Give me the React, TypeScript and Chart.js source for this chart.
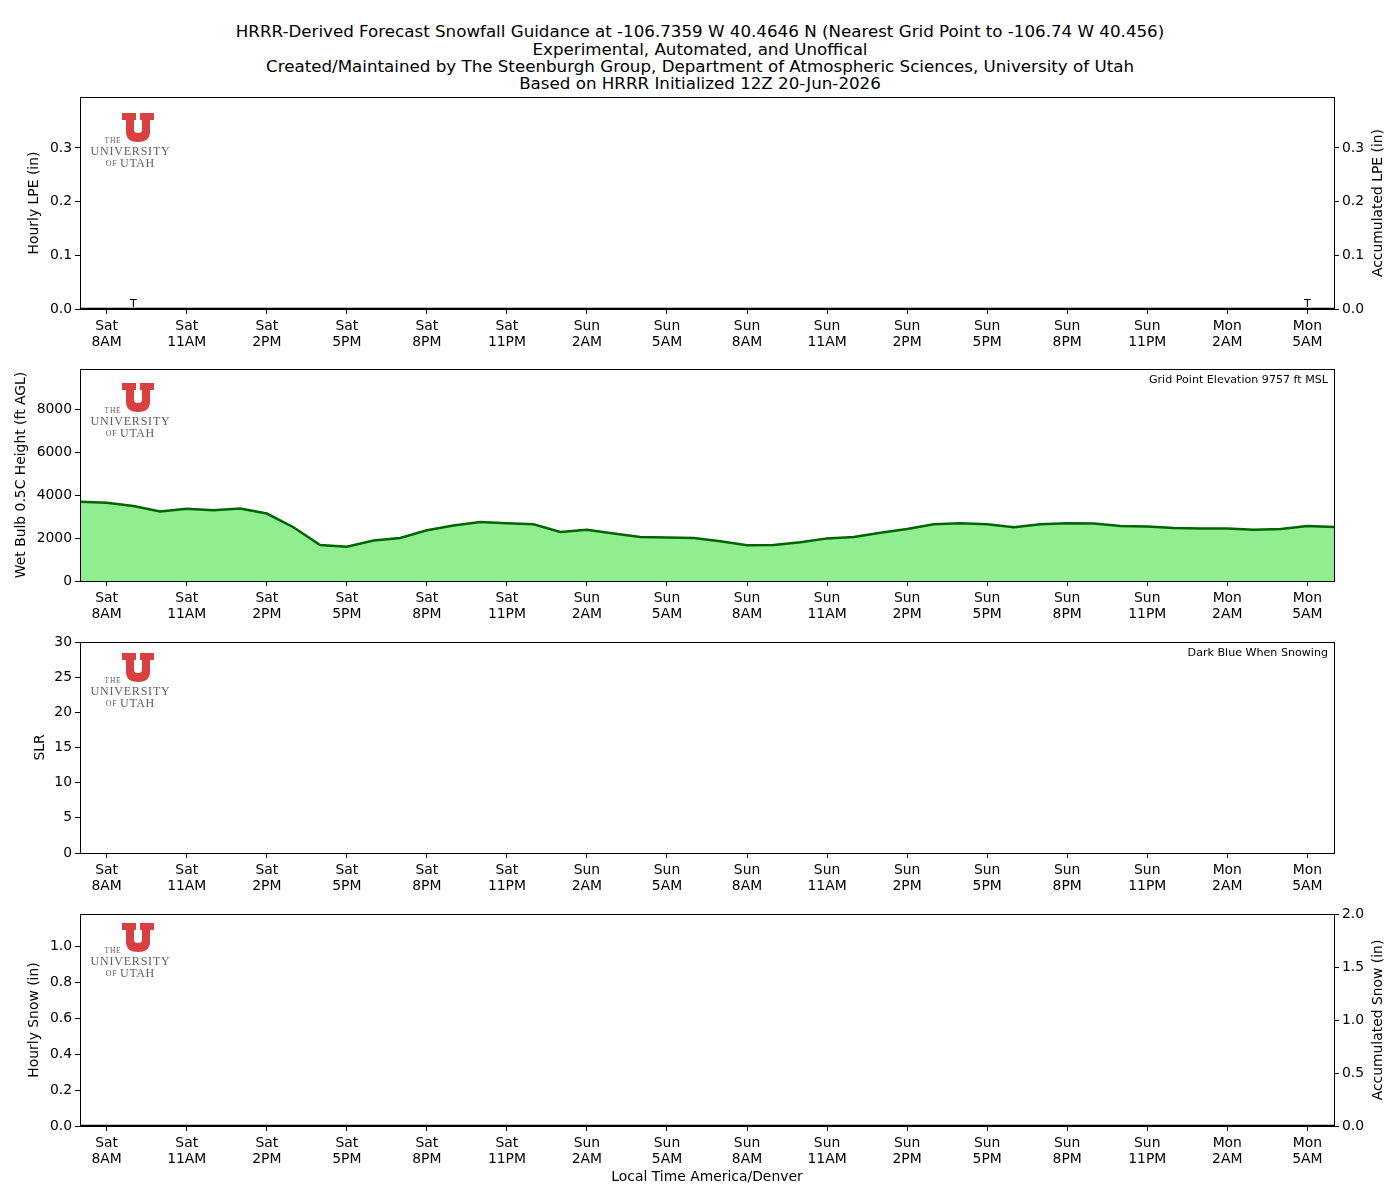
import React, { useEffect, useRef } from "react";
import { Chart, registerables } from "chart.js";

Chart.register(...registerables);

const FONT = '"DejaVu Sans", sans-serif';
const SERIF = '"Liberation Serif", "DejaVu Serif", serif';

// ---------- text ----------
const titleLines = [
  "HRRR-Derived Forecast Snowfall Guidance at -106.7359 W 40.4646 N (Nearest Grid Point to -106.74 W 40.456)",
  "Experimental, Automated, and Unoffical",
  "Created/Maintained by The Steenburgh Group, Department of Atmospheric Sciences, University of Utah",
  "Based on HRRR Initialized 12Z 20-Jun-2026",
];
const xAxisTitle = "Local Time America/Denver";
const elevationNote = "Grid Point Elevation 9757 ft MSL";
const snowingNote = "Dark Blue When Snowing";

// ---------- x axis (hour index 0 = Sat 7AM ... 47 = Mon 6AM) ----------
const hourCount = 48;
const xTickHours = [1, 4, 7, 10, 13, 16, 19, 22, 25, 28, 31, 34, 37, 40, 43, 46];
const xTickDays = ["Sat", "Sat", "Sat", "Sat", "Sat", "Sat", "Sun", "Sun", "Sun", "Sun", "Sun", "Sun", "Sun", "Sun", "Mon", "Mon"];
const xTickTimes = ["8AM", "11AM", "2PM", "5PM", "8PM", "11PM", "2AM", "5AM", "8AM", "11AM", "2PM", "5PM", "8PM", "11PM", "2AM", "5AM"];

// ---------- series ----------
const hourlyLPE = [0, 0, 0, 0, 0, 0, 0, 0, 0, 0, 0, 0, 0, 0, 0, 0, 0, 0, 0, 0, 0, 0, 0, 0, 0, 0, 0, 0, 0, 0, 0, 0, 0, 0, 0, 0, 0, 0, 0, 0, 0, 0, 0, 0, 0, 0, 0, 0];
const accumulatedLPE = [0, 0, 0, 0, 0, 0, 0, 0, 0, 0, 0, 0, 0, 0, 0, 0, 0, 0, 0, 0, 0, 0, 0, 0, 0, 0, 0, 0, 0, 0, 0, 0, 0, 0, 0, 0, 0, 0, 0, 0, 0, 0, 0, 0, 0, 0, 0, 0];
const lpeTraceHours = [2, 46];
const lpeTraceLabel = "T";

const wetBulbHeight = [
  3700, 3650, 3500, 3250, 3370, 3300, 3380, 3150, 2510, 1680, 1600, 1890,
  2010, 2370, 2590, 2750, 2700, 2650, 2290, 2390, 2220, 2060, 2030, 2010,
  1860, 1670, 1680, 1810, 1990, 2050, 2250, 2430, 2650, 2700, 2650, 2510,
  2650, 2700, 2690, 2570, 2540, 2480, 2450, 2450, 2390, 2430, 2570, 2520,
];

const slr: (number | null)[] = [
  null, null, null, null, null, null, null, null, null, null, null, null,
  null, null, null, null, null, null, null, null, null, null, null, null,
  null, null, null, null, null, null, null, null, null, null, null, null,
  null, null, null, null, null, null, null, null, null, null, null, null,
];

const hourlySnow = [0, 0, 0, 0, 0, 0, 0, 0, 0, 0, 0, 0, 0, 0, 0, 0, 0, 0, 0, 0, 0, 0, 0, 0, 0, 0, 0, 0, 0, 0, 0, 0, 0, 0, 0, 0, 0, 0, 0, 0, 0, 0, 0, 0, 0, 0, 0, 0];
const accumulatedSnow = [0, 0, 0, 0, 0, 0, 0, 0, 0, 0, 0, 0, 0, 0, 0, 0, 0, 0, 0, 0, 0, 0, 0, 0, 0, 0, 0, 0, 0, 0, 0, 0, 0, 0, 0, 0, 0, 0, 0, 0, 0, 0, 0, 0, 0, 0, 0, 0];

// ---------- y ticks ----------
const lpeTicks = [0, 0.1, 0.2, 0.3];
const lpeMax = 0.395;
const wetBulbTicks = [0, 2000, 4000, 6000, 8000];
const wetBulbMax = 9900;
const slrTicks = [0, 5, 10, 15, 20, 25, 30];
const slrMax = 30;
const snowTicks = [0, 0.2, 0.4, 0.6, 0.8, 1.0];
const snowMax = 1.178;
const accSnowTicks = [0, 0.5, 1.0, 1.5, 2.0];
const accSnowMax = 2.0;

// ---------- layout ----------
const FIG_W = 1400;
const FIG_H = 1200;
const PLOT_LEFT = 80;
const PLOT_RIGHT = 1334;
const PAD_TOP = 20;
const TICK_SIZE = 13.9;

const toXY = (arr: (number | null)[]) => arr.map((v, i) => ({ x: i, y: v }));

function drawLogo(ctx: CanvasRenderingContext2D, ux: number, uy: number) {
  ctx.save();
  ctx.fillStyle = "#d94141";
  ctx.beginPath();
  ctx.moveTo(ux, uy);
  ctx.lineTo(ux + 14, uy);
  ctx.lineTo(ux + 14, uy + 7);
  ctx.lineTo(ux + 12, uy + 7);
  ctx.lineTo(ux + 12, uy + 17);
  ctx.quadraticCurveTo(ux + 12, uy + 20, ux + 16, uy + 20);
  ctx.quadraticCurveTo(ux + 20, uy + 20, ux + 20, uy + 17);
  ctx.lineTo(ux + 20, uy + 7);
  ctx.lineTo(ux + 18, uy + 7);
  ctx.lineTo(ux + 18, uy);
  ctx.lineTo(ux + 32, uy);
  ctx.lineTo(ux + 32, uy + 7);
  ctx.lineTo(ux + 28, uy + 7);
  ctx.lineTo(ux + 28, uy + 19);
  ctx.bezierCurveTo(ux + 28, uy + 26, ux + 23, uy + 29, ux + 16, uy + 29);
  ctx.bezierCurveTo(ux + 9, uy + 29, ux + 4, uy + 26, ux + 4, uy + 19);
  ctx.lineTo(ux + 4, uy + 7);
  ctx.lineTo(ux, uy + 7);
  ctx.closePath();
  ctx.fill();

  ctx.fillStyle = "#5e5e5e";
  ctx.textAlign = "center";
  ctx.textBaseline = "middle";
  const c = ctx as any;
  c.letterSpacing = "0.8px";
  ctx.font = `7.5px ${SERIF}`;
  ctx.fillText("THE", ux - 9, uy + 28);
  c.letterSpacing = "0.8px";
  ctx.font = `12px ${SERIF}`;
  ctx.fillText("UNIVERSITY", ux + 8.5, uy + 39);
  c.letterSpacing = "0.6px";
  ctx.font = `8px ${SERIF}`;
  ctx.fillText("OF", ux - 10.5, uy + 51);
  ctx.font = `12px ${SERIF}`;
  ctx.fillText("UTAH", ux + 15.5, uy + 51);
  c.letterSpacing = "0px";
  ctx.restore();
}

type DecorOpts = {
  logoOffset: number;
  rightTitle?: string;
  note?: string;
  traces?: number[];
};

function makeDecor(o: DecorOpts) {
  return {
    id: "panelDecor",
    beforeDatasetsDraw(chart: any) {
      const { left, top } = chart.chartArea;
      drawLogo(chart.ctx, left + 42, top + o.logoOffset);
    },
    afterDraw(chart: any) {
      const ctx: CanvasRenderingContext2D = chart.ctx;
      const { left, right, top, bottom } = chart.chartArea;
      ctx.save();
      ctx.strokeStyle = "#000";
      ctx.lineWidth = 1;
      ctx.strokeRect(Math.round(left) + 0.5, Math.round(top) + 0.5, Math.round(right - left), Math.round(bottom - top));
      if (o.rightTitle) {
        ctx.save();
        ctx.translate(FIG_W - 22, (top + bottom) / 2);
        ctx.rotate(-Math.PI / 2);
        ctx.font = `${TICK_SIZE}px ${FONT}`;
        ctx.fillStyle = "#000";
        ctx.textAlign = "center";
        ctx.textBaseline = "middle";
        ctx.fillText(o.rightTitle, 0, 0);
        ctx.restore();
      }
      if (o.note) {
        ctx.font = `11.1px ${FONT}`;
        ctx.fillStyle = "#000";
        ctx.textAlign = "right";
        ctx.textBaseline = "middle";
        ctx.fillText(o.note, right - 6, top + 11);
      }
      if (o.traces) {
        const xs = chart.scales.x;
        const ys = chart.scales.y;
        ctx.font = `11.1px ${FONT}`;
        ctx.fillStyle = "#000";
        ctx.textAlign = "center";
        ctx.textBaseline = "alphabetic";
        o.traces.forEach((h) => {
          ctx.fillText(lpeTraceLabel, xs.getPixelForValue(h), ys.getPixelForValue(0) - 2);
        });
      }
      ctx.restore();
    },
  };
}

function xAxis(withTitle: boolean) {
  return {
    type: "linear",
    position: "bottom",
    min: 0,
    max: hourCount - 1,
    offset: false,
    afterBuildTicks: (s: any) => {
      s.ticks = xTickHours.map((v) => ({ value: v }));
    },
    afterFit: (s: any) => {
      s.height = withTitle ? 72 : 52;
      s.paddingLeft = 0;
      s.paddingRight = 0;
    },
    ticks: {
      autoSkip: false,
      maxRotation: 0,
      minRotation: 0,
      color: "#000",
      padding: 4,
      font: { family: FONT, size: TICK_SIZE, lineHeight: 1.15 },
      callback: (v: number) => {
        const i = xTickHours.indexOf(v);
        return [xTickDays[i], xTickTimes[i]];
      },
    },
    grid: { display: true, offset: false, drawOnChartArea: false, drawTicks: true, tickLength: 5, color: "#000", lineWidth: 1 },
    border: { display: false },
    title: withTitle
      ? { display: true, text: xAxisTitle, color: "#000", font: { family: FONT, size: TICK_SIZE, lineHeight: 1.2 }, padding: { top: 0, bottom: 12 } }
      : { display: false },
  };
}

function yAxis(position: "left" | "right", max: number, ticks: number[], fmt: (v: number) => string, title?: string, titlePad?: number) {
  return {
    type: "linear",
    position,
    min: 0,
    max,
    afterBuildTicks: (s: any) => {
      s.ticks = ticks.map((v) => ({ value: v }));
    },
    afterFit: (s: any) => {
      s.width = position === "left" ? PLOT_LEFT : FIG_W - PLOT_RIGHT;
      s.paddingTop = 0;
      s.paddingBottom = 0;
    },
    ticks: { color: "#000", padding: 3, font: { family: FONT, size: TICK_SIZE }, callback: (v: number) => fmt(v) },
    grid: { display: true, drawOnChartArea: false, drawTicks: true, tickLength: 5, color: "#000", lineWidth: 1 },
    border: { display: false },
    title: title
      ? { display: true, text: title, color: "#000", font: { family: FONT, size: TICK_SIZE, lineHeight: 1.2 }, padding: { top: titlePad ?? 0, bottom: 0 } }
      : { display: false },
  };
}

const f1 = (v: number) => v.toFixed(1);
const f0 = (v: number) => String(Math.round(v));

type PanelSpec = {
  top: number;
  bottom: number;
  withXTitle: boolean;
  hasRight: boolean;
  build: () => any;
};

function baseOptions(hasRight: boolean, scales: any) {
  return {
    responsive: false,
    maintainAspectRatio: false,
    animation: false,
    events: [],
    layout: { padding: { top: PAD_TOP, left: 0, bottom: 0, right: hasRight ? 0 : FIG_W - PLOT_RIGHT } },
    plugins: { legend: { display: false }, tooltip: { enabled: false }, title: { display: false } },
    scales,
  };
}

const panels: PanelSpec[] = [
  {
    top: 97,
    bottom: 309,
    withXTitle: false,
    hasRight: true,
    build: () => ({
      type: "line",
      data: {
        datasets: [
          { type: "bar", label: "Hourly LPE", data: toXY(hourlyLPE), yAxisID: "y", backgroundColor: "#3a7fc1", borderWidth: 0, barPercentage: 1, categoryPercentage: 0.8 },
          { type: "line", label: "Accumulated LPE", data: toXY(accumulatedLPE), yAxisID: "y2", borderColor: "#000", borderWidth: 2.5, pointRadius: 0, fill: false, tension: 0 },
        ],
      },
      options: baseOptions(true, {
        x: xAxis(false),
        y: yAxis("left", lpeMax, lpeTicks, f1, "Hourly LPE (in)", 26),
        y2: yAxis("right", lpeMax, lpeTicks, f1),
      }),
      plugins: [makeDecor({ logoOffset: 16, rightTitle: "Accumulated LPE (in)", traces: lpeTraceHours })],
    }),
  },
  {
    top: 369,
    bottom: 581,
    withXTitle: false,
    hasRight: false,
    build: () => ({
      type: "line",
      data: {
        datasets: [
          { label: "Wet Bulb 0.5C Height", data: toXY(wetBulbHeight), borderColor: "#006400", backgroundColor: "#90ee90", borderWidth: 2.5, pointRadius: 0, fill: "origin", tension: 0 },
        ],
      },
      options: baseOptions(false, {
        x: xAxis(false),
        y: yAxis("left", wetBulbMax, wetBulbTicks, f0, "Wet Bulb 0.5C Height (ft AGL)", 13.3),
      }),
      plugins: [makeDecor({ logoOffset: 14, note: elevationNote })],
    }),
  },
  {
    top: 642,
    bottom: 853,
    withXTitle: false,
    hasRight: false,
    build: () => ({
      type: "line",
      data: {
        datasets: [
          { label: "SLR", data: toXY(slr), borderColor: "#00008b", borderWidth: 2, pointRadius: 0, fill: false, tension: 0 },
        ],
      },
      options: baseOptions(false, {
        x: xAxis(false),
        y: yAxis("left", slrMax, slrTicks, f0, "SLR", 31.7),
      }),
      plugins: [makeDecor({ logoOffset: 11, note: snowingNote })],
    }),
  },
  {
    top: 914,
    bottom: 1126,
    withXTitle: true,
    hasRight: true,
    build: () => ({
      type: "line",
      data: {
        datasets: [
          { type: "bar", label: "Hourly Snow", data: toXY(hourlySnow), yAxisID: "y", backgroundColor: "#00008b", borderWidth: 0, barPercentage: 1, categoryPercentage: 0.8 },
          { type: "line", label: "Accumulated Snow", data: toXY(accumulatedSnow), yAxisID: "y2", borderColor: "#000", borderWidth: 2.5, pointRadius: 0, fill: false, tension: 0 },
        ],
      },
      options: baseOptions(true, {
        x: xAxis(true),
        y: yAxis("left", snowMax, snowTicks, f1, "Hourly Snow (in)", 26),
        y2: yAxis("right", accSnowMax, accSnowTicks, f1),
      }),
      plugins: [makeDecor({ logoOffset: 9, rightTitle: "Accumulated Snow (in)" })],
    }),
  },
];

function Panel({ spec }: { spec: PanelSpec }) {
  const ref = useRef<HTMLCanvasElement | null>(null);
  const height = PAD_TOP + (spec.bottom - spec.top) + (spec.withXTitle ? 72 : 52);
  const canvasTop = spec.top - PAD_TOP;
  useEffect(() => {
    if (!ref.current) return;
    const chart = new Chart(ref.current, spec.build());
    return () => chart.destroy();
  }, [spec]);
  return (
    <canvas
      ref={ref}
      width={FIG_W}
      height={height}
      style={{ position: "absolute", left: 0, top: canvasTop, width: FIG_W, height }}
    />
  );
}

export default function App() {
  return (
    <div style={{ position: "fixed", left: 0, top: 0, width: FIG_W, height: FIG_H, background: "#fff", overflow: "hidden" }}>
      <div style={{ position: "absolute", left: 0, top: 23.4, width: FIG_W, textAlign: "center", fontFamily: FONT, fontSize: 16.7, lineHeight: "17.3px", color: "#000" }}>
        {titleLines.map((t, i) => (
          <div key={i} style={{ height: 17.3, whiteSpace: "nowrap" }}>{t}</div>
        ))}
      </div>
      {panels.map((p, i) => (
        <Panel key={i} spec={p} />
      ))}
    </div>
  );
}
